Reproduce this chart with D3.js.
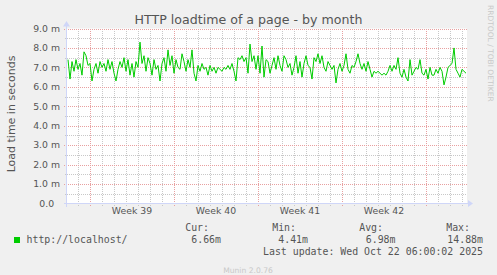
<!DOCTYPE html>
<html><head><meta charset="utf-8">
<script src="https://cdn.jsdelivr.net/npm/d3@7"></script>
<style>
html,body{margin:0;padding:0;background:#F0F0F0;}
svg{display:block;}
text{font-family:"DejaVu Sans",sans-serif;fill:#555;}
.mono{font-family:"DejaVu Sans Mono",monospace;white-space:pre;}
</style></head><body>
<svg id="c" width="497" height="275"></svg>
<script>
// ---------- data ----------
const title = "HTTP loadtime of a page - by month";
const yLabel = "Load time in seconds";
const watermark = "RRDTOOL / TOBI OETIKER";
const footer = "Munin 2.0.76";
const seriesName = "http://localhost/";
const seriesColor = "#00CC00";
const yMajorTicks = [0, 1, 2, 3, 4, 5, 6, 7, 8, 9];
const yMinorTicks = [0.5, 1.5, 2.5, 3.5, 4.5, 5.5, 6.5, 7.5, 8.5];
const yTickLabels = ["0.0", "1.0 m", "2.0 m", "3.0 m", "4.0 m", "5.0 m", "6.0 m", "7.0 m", "8.0 m", "9.0 m"];
const weekLabels = ["Week 39", "Week 40", "Week 41", "Week 42"];
const weekMidpoints = ["2025-09-24T12:00:00Z", "2025-10-01T12:00:00Z", "2025-10-08T12:00:00Z", "2025-10-15T12:00:00Z"];
const rangeStart = "2025-09-19T02:00:00Z";
const rangeEnd = "2025-10-22T10:00:00Z";
const sampleHours = 4;
const legendHeaders = ["Cur:", "Min:", "Avg:", "Max:"];
const legendValues = ["6.66m", "4.41m", "6.98m", "14.88m"];
const lastUpdate = "Last update: Wed Oct 22 06:00:02 2025";
// load time, in milliseconds (m), one sample every 4 hours
const values = [
 7.4, 6.4, 7.3, 6.8, 7.4, 6.9, 7.2, 6.6, 7.8, 7.6, 7.1, 7.2, 6.3, 6.9, 7.2, 6.7, 7.3,
 7.0, 7.2, 6.8, 7.4, 6.9, 7.3, 6.7, 6.3, 6.9, 7.3, 7.0, 7.5, 6.8, 7.4, 6.6, 7.2, 6.5, 7.3,
 7.0, 8.3, 7.2, 7.6, 6.8, 7.5, 7.2, 6.6, 7.4, 6.9, 7.1, 6.3, 7.2, 7.5, 6.8, 7.9,
 7.1, 7.6, 6.7, 7.4, 7.0, 6.9, 7.7, 7.3, 6.8, 7.4, 7.0, 7.9, 6.7, 6.3, 7.1, 6.8,
 7.2, 6.9, 7.0, 6.6, 7.1, 6.8, 7.0, 6.7, 7.0, 6.9, 6.8, 7.0, 6.9, 7.1, 6.9, 7.2, 6.8, 6.3,
 7.5, 7.4, 7.6, 7.3, 7.5, 6.7, 8.2, 7.3, 7.6, 6.9, 7.6, 6.7, 8.1, 6.5, 7.4,
 7.3, 6.7, 7.1, 7.5, 6.9, 7.6, 7.1, 6.8, 7.6, 7.4, 7.0, 7.2, 6.6, 7.0, 7.6, 6.7, 7.3, 6.5, 7.2, 7.6,
 7.1, 7.0, 6.4, 7.5, 7.3, 7.7, 7.2, 7.6, 7.0, 6.8, 7.3, 7.1, 6.9, 7.1, 6.2, 6.9, 7.2, 6.8, 7.1, 7.7,
 6.9, 6.7, 7.1, 7.0, 7.3, 7.7, 7.2, 6.9, 7.2, 6.8,
 7.3, 6.9, 6.5, 6.8, 6.7, 6.8, 6.7, 6.6, 6.7, 6.6, 6.8, 7.1, 6.8, 7.1, 6.9, 7.5, 6.7, 6.5, 6.9, 6.5,
 6.3, 7.4, 6.6, 6.8, 7.0, 6.9, 7.4, 6.7, 6.6, 6.9, 6.4, 7.0, 6.6, 6.6, 6.9, 6.7, 7.0, 6.8, 6.1, 6.5,
 7.0, 7.1, 7.2, 8.0, 6.9, 6.7, 6.5, 6.9, 6.8, 6.7
];

// ---------- chart ----------
const svg = d3.select("#c");
const W = 497, H = 275;
const plot = {left: 67, right: 467, top: 28.5, bottom: 203.5};
const t0 = new Date(rangeStart), t1 = new Date(rangeEnd);
const x = d3.scaleUtc().domain([t0, t1]).range([plot.left, plot.right]);
const y = d3.scaleLinear().domain([0, 9]).range([plot.bottom, plot.top]);
const data = values.map((v, i) => ({t: new Date(t0.getTime() + (i + 0.5) * sampleHours * 3600e3), v}));

svg.append("rect").attr("width", W).attr("height", H).attr("fill", "#F0F0F0");
svg.append("rect").attr("x", plot.left).attr("y", plot.top)
  .attr("width", plot.right - plot.left).attr("height", plot.bottom - plot.top).attr("fill", "#FFFFFF");

const grid = svg.append("g").attr("shape-rendering", "crispEdges");
const minorCol = "#C8C8C8", majorCol = "#E8A0A0";
// minor horizontal
grid.selectAll(".hmin").data(yMinorTicks).join("line")
  .attr("x1", plot.left - 2).attr("x2", plot.right)
  .attr("y1", d => Math.round(y(d)) + 0.5).attr("y2", d => Math.round(y(d)) + 0.5)
  .attr("stroke", minorCol).attr("stroke-dasharray", "1,1");
// minor vertical (days)
const days = d3.utcDay.range(d3.utcDay.ceil(t0), t1);
grid.selectAll(".vmin").data(days.filter(d => d.getUTCDay() !== 0)).join("line")
  .attr("x1", d => Math.round(x(d)) + 0.5).attr("x2", d => Math.round(x(d)) + 0.5)
  .attr("y1", plot.top).attr("y2", plot.bottom + 2)
  .attr("stroke", minorCol).attr("stroke-dasharray", "1,1");
// major horizontal
grid.selectAll(".hmaj").data(yMajorTicks.filter(d => d > 0)).join("line")
  .attr("x1", plot.left - 3).attr("x2", plot.right)
  .attr("y1", d => Math.round(y(d)) + 0.5).attr("y2", d => Math.round(y(d)) + 0.5)
  .attr("stroke", majorCol).attr("stroke-dasharray", "1,1");
// major vertical (weeks)
const weeks = d3.utcSunday.range(d3.utcSunday.ceil(t0), t1);
grid.selectAll(".vmaj").data(weeks).join("line")
  .attr("x1", d => Math.round(x(d)) + 0.5).attr("x2", d => Math.round(x(d)) + 0.5)
  .attr("y1", plot.top).attr("y2", plot.bottom + 3)
  .attr("stroke", majorCol).attr("stroke-dasharray", "1,1");

// axes
const axisCol = "#CFD6F8";
const ax = svg.append("g").attr("shape-rendering", "crispEdges");
ax.append("line").attr("x1", plot.left - 3).attr("x2", plot.right + 2)
  .attr("y1", plot.bottom).attr("y2", plot.bottom).attr("stroke", axisCol);
ax.append("line").attr("x1", plot.left - 0.5).attr("x2", plot.left - 0.5)
  .attr("y1", plot.bottom + 3).attr("y2", plot.top - 3).attr("stroke", axisCol);
svg.append("path").attr("fill", axisCol)
  .attr("d", `M${plot.right + 1},${plot.bottom - 3.5} L${plot.right + 6},${plot.bottom} L${plot.right + 1},${plot.bottom + 3.5} Z`);
svg.append("path").attr("fill", axisCol)
  .attr("d", `M${plot.left - 4},${plot.top - 2} L${plot.left - 0.5},${plot.top - 7.5} L${plot.left + 3},${plot.top - 2} Z`);

// line
svg.append("path").datum(data)
  .attr("fill", "none").attr("stroke", seriesColor).attr("stroke-width", 1)
  .attr("stroke-linejoin", "round")
  .attr("d", d3.line().x(d => x(d.t)).y(d => y(d.v)));

// y tick labels
svg.append("g").selectAll("text").data(yMajorTicks).join("text")
  .attr("x", 60).attr("y", d => y(d) + 3.3)
  .attr("text-anchor", "end").style("white-space", "pre")
  .attr("font-size", "9.3px")
  .text((d, i) => yTickLabels[i].indexOf(" ") < 0 ? yTickLabels[i] + "\u00a0\u00a0" : yTickLabels[i]);

// x labels
svg.append("g").selectAll("text").data(weekLabels).join("text")
  .attr("x", (d, i) => x(new Date(weekMidpoints[i]))).attr("y", 214)
  .attr("text-anchor", "middle").attr("font-size", "9.3px").text(d => d);

// title
svg.append("text").attr("x", W / 2).attr("y", 24).attr("text-anchor", "middle")
  .attr("font-size", "12.6px").text(title);

// y label
svg.append("text").attr("transform", `translate(15,${(plot.top + plot.bottom) / 2 - 2}) rotate(-90)`)
  .attr("text-anchor", "middle").attr("font-size", "11px").text(yLabel);

// watermark
svg.append("text").attr("transform", "translate(488,5) rotate(90)")
  .attr("text-anchor", "start").attr("font-size", "7.5px").style("fill", "#C8C8C8").text(watermark);

// legend
const lg = svg.append("g");
lg.append("rect").attr("x", 14).attr("y", 237).attr("width", 6).attr("height", 6).attr("fill", seriesColor);
lg.append("text").attr("class", "mono").attr("x", 26.5).attr("y", 243.3).attr("font-size", "9.9px").text(seriesName);
const headEnds = [209, 296, 383, 470];
const valEnds = [221, 308, 395.5, 483];
lg.selectAll(".hd").data(legendHeaders).join("text").attr("class", "mono")
  .attr("x", (d, i) => headEnds[i]).attr("y", 230.7).attr("text-anchor", "end").attr("font-size", "9.9px").text(d => d);
lg.selectAll(".vl").data(legendValues).join("text").attr("class", "mono")
  .attr("x", (d, i) => valEnds[i]).attr("y", 243.3).attr("text-anchor", "end").attr("font-size", "9.9px").text(d => d);
lg.append("text").attr("class", "mono").attr("x", 483).attr("y", 255.2).attr("text-anchor", "end")
  .attr("font-size", "9.9px").text(lastUpdate);

svg.append("text").attr("x", 248).attr("y", 272.5).attr("text-anchor", "middle")
  .attr("font-size", "7.6px").style("fill", "#C8C8C8").text(footer);
</script>
</body></html>
